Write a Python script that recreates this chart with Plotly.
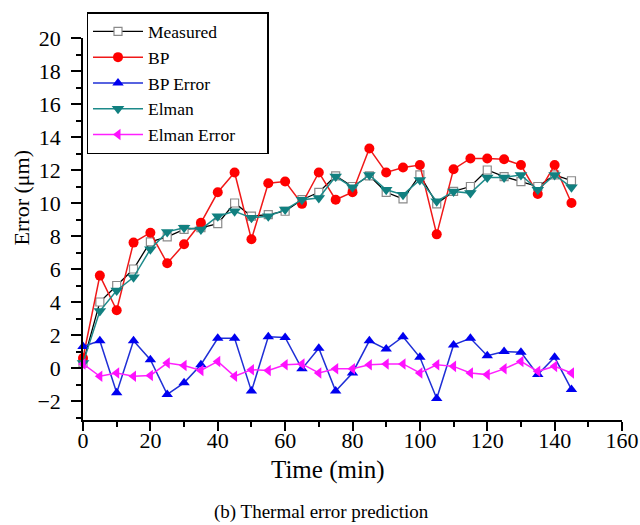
import plotly.graph_objects as go

time_min = [0, 5, 10, 15, 20, 25, 30, 35, 40, 45, 50, 55, 60, 65, 70,
            75, 80, 85, 90, 95, 100, 105, 110, 115, 120, 125, 130, 135, 140, 145]

measured = [0.3, 4.0, 5.0, 6.0, 7.65, 7.95, 8.4, 8.5, 8.75, 10.0, 9.2, 9.3, 9.5, 10.2, 10.65,
            11.65, 11.0, 11.65, 10.65, 10.25, 11.7, 9.95, 10.7, 11.0, 12.0, 11.6, 11.3, 11.0, 11.7, 11.35]

bp = [0.6, 5.6, 3.5, 7.6, 8.2, 6.35, 7.5, 8.8, 10.65, 11.85, 7.8, 11.2, 11.3, 9.95, 11.85,
      10.2, 10.65, 13.3, 11.85, 12.15, 12.3, 8.1, 12.05, 12.7, 12.7, 12.65, 12.3, 10.55, 12.3, 10.0]

bp_error = [1.3, 1.65, -1.5, 1.65, 0.5, -1.6, -0.9, 0.2, 1.8, 1.8, -1.4, 1.9, 1.85, -0.05, 1.2,
            -1.4, -0.3, 1.65, 1.15, 1.9, 0.65, -1.85, 1.4, 1.8, 0.75, 1.0, 0.95, -0.4, 0.65, -1.3]

elman = [0.3, 3.45, 4.7, 5.5, 7.2, 8.25, 8.5, 8.4, 9.2, 9.5, 9.1, 9.2, 9.6, 10.2, 10.3,
         11.6, 10.95, 11.7, 10.8, 10.5, 11.4, 10.1, 10.7, 10.6, 11.55, 11.55, 11.7, 10.8, 11.7, 10.95]

elman_error = [0.25, -0.5, -0.3, -0.5, -0.45, 0.3, 0.15, -0.15, 0.4, -0.5, -0.1, -0.15, 0.2, 0.25, -0.3,
               -0.05, -0.05, 0.2, 0.25, 0.25, -0.3, 0.2, 0.1, -0.3, -0.4, -0.05, 0.4, -0.2, 0.1, -0.3]

series_names = ["Measured", "BP", "BP Error", "Elman", "Elman Error"]

FONT = "Liberation Serif"
PAD = "\u00a0" * 6  # widens the legend box to match the reference

fig = go.Figure()
fig.add_trace(go.Scatter(x=time_min, y=measured, name=series_names[0], mode="lines+markers",
                         line=dict(color="black", width=1.3),
                         marker=dict(symbol="square", size=8, color="white",
                                     line=dict(color="#8a8a8a", width=1.2)),
                         cliponaxis=False))
fig.add_trace(go.Scatter(x=time_min, y=bp, name=series_names[1], mode="lines+markers",
                         line=dict(color="#f01818", width=1.5),
                         marker=dict(symbol="circle", size=10, color="#ff0000"),
                         cliponaxis=False))
fig.add_trace(go.Scatter(x=time_min, y=bp_error, name=series_names[2], mode="lines+markers",
                         line=dict(color="#1f2fd6", width=1.5),
                         marker=dict(symbol="triangle-up", size=10, color="#0000f0"),
                         cliponaxis=False))
fig.add_trace(go.Scatter(x=time_min, y=elman, name=series_names[3], mode="lines+markers",
                         line=dict(color="#1d8a8a", width=1.5),
                         marker=dict(symbol="triangle-down", size=11, color="#118080"),
                         cliponaxis=False))
fig.add_trace(go.Scatter(x=time_min, y=elman_error, name=series_names[4] + PAD, mode="lines+markers",
                         line=dict(color="#ff20ff", width=1.5),
                         marker=dict(symbol="triangle-left", size=10, color="#ff10ff"),
                         cliponaxis=False))

fig.update_layout(
    width=640, height=525,
    margin=dict(l=83, r=18, t=38, b=105, autoexpand=False),
    paper_bgcolor="white", plot_bgcolor="white",
    font=dict(family=FONT, color="black", size=22),
    showlegend=True,
    legend=dict(x=0.0065, y=1.068, xanchor="left", yanchor="top",
                bordercolor="black", borderwidth=1.5, bgcolor="white",
                font=dict(family=FONT, size=17.5), itemwidth=50,
                tracegroupgap=0),
    xaxis=dict(range=[0, 160], showgrid=False, zeroline=False, automargin=False,
               showline=True, linecolor="black", linewidth=1.5,
               ticks="outside", ticklen=9, tickwidth=1.5, tickcolor="black",
               dtick=20, tick0=0,
               minor=dict(ticks="outside", ticklen=5, tickwidth=1.5, dtick=10, tickcolor="black"),
               tickfont=dict(size=22, family=FONT), ticklabelstandoff=-9),
    yaxis=dict(range=[-3.15, 20], showgrid=False, zeroline=False, automargin=False,
               showline=True, linecolor="black", linewidth=1.5,
               ticks="outside", ticklen=10, tickwidth=1.5, tickcolor="black",
               tickvals=[-2, 0, 2, 4, 6, 8, 10, 12, 14, 16, 18, 20],
               minor=dict(ticks="outside", ticklen=5, tickwidth=1.5, dtick=1, tick0=0, tickcolor="black"),
               tickfont=dict(size=22, family=FONT), ticklabelstandoff=6),
    annotations=[
        dict(text="Time (min)", xref="paper", yref="paper", x=0.454, y=-0.13,
             xanchor="center", yanchor="middle", showarrow=False,
             font=dict(family=FONT, size=25)),
        dict(text="Error (μm)", xref="paper", yref="paper", x=-0.115, y=0.58,
             xanchor="center", yanchor="middle", showarrow=False, textangle=-90,
             font=dict(family=FONT, size=22)),
        dict(text="(b) Thermal error prediction", xref="paper", yref="paper", x=0.443, y=-0.241,
             xanchor="center", yanchor="middle", showarrow=False,
             font=dict(family=FONT, size=19)),
    ],
)

fig.write_html("out.html")
